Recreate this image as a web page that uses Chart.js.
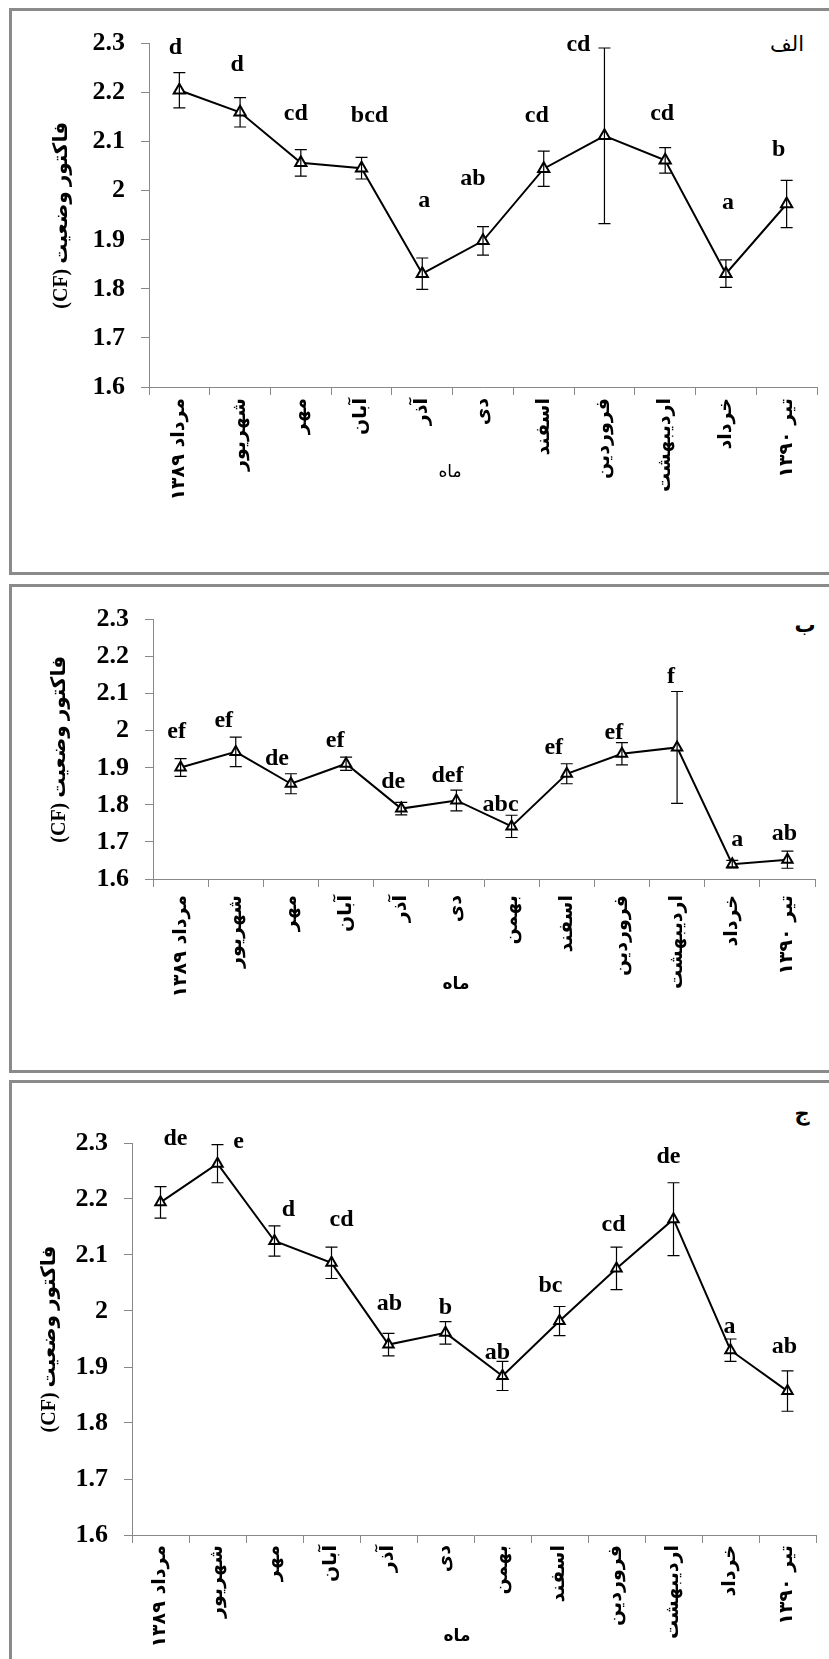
<!DOCTYPE html>
<html lang="fa">
<head>
<meta charset="utf-8">
<script src="https://cdn.jsdelivr.net/npm/chart.js@4.4.1/dist/chart.umd.min.js"></script>
<style>
  html, body { margin: 0; padding: 0; background: #fff; }
  body { width: 829px; height: 1659px; overflow: hidden; position: relative; }
  .frame { position: absolute; border: 3px solid #8a8a8a; box-sizing: border-box; }
  .tag { position: absolute; font: bold 21px "DejaVu Sans"; transform: translate(-50%, -50%); }
  canvas { position: absolute; left: 0; }
</style>
</head>
<body>
<div class="frame" style="left:9px; top:8px; width:840px; height:567px;"></div>
<div class="frame" style="left:9px; top:584px; width:840px; height:489px;"></div>
<div class="frame" style="left:9px; top:1080px; width:840px; height:700px;"></div>

<div class="tag" style="left:787px; top:44px; font-weight:normal;">الف</div>
<div class="tag" style="left:805px; top:625px;">ب</div>
<div class="tag" style="left:802px; top:1113px;">ج</div>

<canvas id="chartA" width="829" height="559" style="top:12px;"></canvas>
<canvas id="chartB" width="829" height="481" style="top:588px;"></canvas>
<canvas id="chartC" width="829" height="575" style="top:1084px;"></canvas>

<script>
// meses
const monthsA = ['مرداد ۱۳۸۹', 'شهریور', 'مهر', 'آبان', 'آذر', 'دی', 'اسفند', 'فروردین', 'اردیبهشت', 'خرداد', 'تیر ۱۳۹۰'];
const monthsBC = ['مرداد ۱۳۸۹', 'شهریور', 'مهر', 'آبان', 'آذر', 'دی', 'بهمن', 'اسفند', 'فروردین', 'اردیبهشت', 'خرداد', 'تیر ۱۳۹۰'];

// الف
const cfA = [2.205, 2.160, 2.057, 2.046, 1.831, 1.898, 2.045, 2.112, 2.062, 1.831, 1.973];
const seA = [0.036, 0.030, 0.027, 0.022, 0.032, 0.029, 0.036, 0.179, 0.026, 0.028, 0.048];
const letA = ['d', 'd', 'cd', 'bcd', 'a', 'ab', 'cd', 'cd', 'cd', 'a', 'b'];

// ب
const cfB = [1.901, 1.943, 1.857, 1.911, 1.790, 1.812, 1.742, 1.884, 1.938, 1.955, 1.640, 1.652];
const seB = [0.024, 0.040, 0.027, 0.018, 0.017, 0.028, 0.030, 0.027, 0.030, 0.151, 0.010, 0.023];
const letB = ['ef', 'ef', 'de', 'ef', 'de', 'def', 'abc', 'ef', 'ef', 'f', 'a', 'ab'];

// ج
const cfC = [2.194, 2.263, 2.125, 2.086, 1.940, 1.961, 1.884, 1.982, 2.076, 2.164, 1.930, 1.857];
const seC = [0.028, 0.034, 0.027, 0.028, 0.020, 0.020, 0.026, 0.026, 0.038, 0.065, 0.020, 0.036];
const letC = ['de', 'e', 'd', 'cd', 'ab', 'b', 'ab', 'bc', 'cd', 'de', 'a', 'ab'];

const yTickValues = [1.6, 1.7, 1.8, 1.9, 2.0, 2.1, 2.2, 2.3];
const xTitle = 'ماه';
const yTitle = '(CF) فاکتور وضعیت';

// desplazamiento de las letras respecto al punto (px)
const shiftA = [[-4,-42],[-3,-47],[-5,-49],[8,-52],[2,-73],[-10,-62],[-7,-53],[-26,-91],[-3,-47],[2,-71],[-8,-54]];
const shiftB = [[-4,-36],[-12,-31],[-14,-25],[-11,-23],[-8,-27],[-9,-25],[-11,-22],[-13,-26],[-8,-21],[-6,-71],[5,-24],[-3,-26]];
const shiftC = [[15,-64],[21,-22],[14,-31],[10,-43],[1,-41],[0,-25],[-5,-23],[-9,-35],[-3,-44],[-5,-62],[-1,-23],[-3,-44]];

// barras de error, letras y titulo del eje x
const extras = {
  id: 'extras',
  afterDatasetsDraw(chart, args, opts) {
    const ctx = chart.ctx;
    const ys = chart.scales.y;
    const ds = chart.data.datasets[0];
    const pts = chart.getDatasetMeta(0).data;
    ctx.save();
    ctx.strokeStyle = '#000';
    ctx.lineWidth = 1.2;
    pts.forEach((p, i) => {
      const t = ys.getPixelForValue(ds.data[i] + ds.errs[i]);
      const b = ys.getPixelForValue(ds.data[i] - ds.errs[i]);
      ctx.beginPath();
      ctx.moveTo(p.x, t); ctx.lineTo(p.x, b);
      ctx.moveTo(p.x - 6, t); ctx.lineTo(p.x + 6, t);
      ctx.moveTo(p.x - 6, b); ctx.lineTo(p.x + 6, b);
      ctx.stroke();
    });
    ctx.fillStyle = '#000';
    ctx.font = 'bold 24px "Liberation Serif"';
    ctx.textAlign = 'center';
    ctx.textBaseline = 'middle';
    pts.forEach((p, i) => {
      const s = ds.shifts[i];
      ctx.fillText(ds.letters[i], p.x + s[0], p.y + s[1]);
    });
    ctx.font = opts.titleWeight + ' 17px "DejaVu Sans"';
    ctx.fillText(xTitle, opts.titleX, opts.titleY);
    ctx.restore();
  }
};

function drawPanel(id, box, months, means, errs, letters, shifts) {
  return new Chart(document.getElementById(id), {
    type: 'line',
    data: {
      labels: months,
      datasets: [{
        data: means, errs: errs, letters: letters, shifts: shifts,
        borderColor: '#000', borderWidth: 2, tension: 0,
        pointStyle: 'triangle', pointRadius: box.r, pointHoverRadius: box.r,
        pointBackgroundColor: '#fff', pointBorderColor: '#000', pointBorderWidth: 2
      }]
    },
    options: {
      responsive: false,
      animation: false,
      events: [],
      layout: { padding: { left: 0, top: box.padTop, right: box.padRight, bottom: 0 } },
      plugins: {
        legend: { display: false },
        tooltip: { enabled: false },
        extras: { titleX: box.titleX, titleY: box.titleY, titleWeight: box.titleWeight }
      },
      scales: {
        x: {
          offset: true,
          grid: { offset: true, drawOnChartArea: false, tickLength: 8, color: '#888' },
          border: { color: '#888' },
          ticks: {
            autoSkip: false, minRotation: 90, maxRotation: 90, padding: box.xPad, color: '#000',
            font: { family: '"DejaVu Sans"', size: 19, weight: 'bold' }
          },
          afterFit: s => { s.height = box.xH; }
        },
        y: {
          min: 1.6, max: 2.3,
          afterBuildTicks: s => { s.ticks = yTickValues.map(v => ({ value: v })); },
          grid: { drawOnChartArea: false, tickLength: 8, color: '#888' },
          border: { color: '#888' },
          ticks: {
            padding: 16, color: '#000',
            callback: v => String(+v.toFixed(1)),
            font: { family: '"Liberation Serif"', size: 26, weight: 'bold' }
          },
          title: {
            display: true, text: yTitle, color: '#000',
            font: { family: '"Liberation Serif", "DejaVu Sans"', size: 20, weight: 'bold' },
            padding: { top: box.titlePadY, bottom: 0 }
          },
          afterFit: s => { s.width = box.yW; }
        }
      }
    },
    plugins: [extras]
  });
}

drawPanel('chartA', { r: 6.5, padTop: 28, padRight: 12, yW: 149, xH: 184, xPad: 3, titlePadY: 50, titleX: 450, titleY: 461, titleWeight: 'normal' },
  monthsA, cfA, seA, letA, shiftA);
drawPanel('chartB', { r: 6, padTop: 23, padRight: 14, yW: 153, xH: 190, xPad: 8, titlePadY: 48, titleX: 456, titleY: 397, titleWeight: 'bold' },
  monthsBC, cfB, seB, letB, shiftB);
drawPanel('chartC', { r: 6, padTop: 59, padRight: 13, yW: 132, xH: 124, xPad: 2, titlePadY: 38, titleX: 457, titleY: 553, titleWeight: 'bold' },
  monthsBC, cfC, seC, letC, shiftC);
</script>
</body>
</html>
